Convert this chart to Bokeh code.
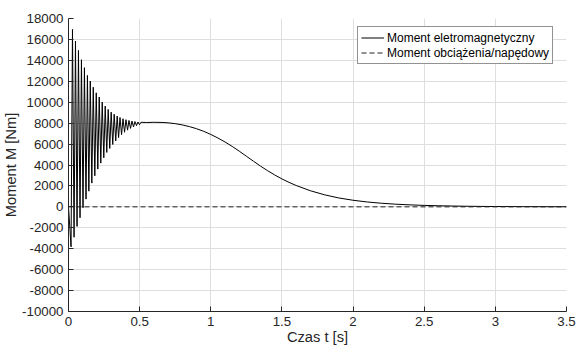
from bokeh.plotting import figure
from bokeh.models import Range1d, FixedTicker, CustomJSTickFormatter, Legend, LegendItem
from bokeh.embed import file_html
from bokeh.resources import INLINE

# ---------------- data ----------------
x_ticks = [0, 0.5, 1, 1.5, 2, 2.5, 3, 3.5]
y_ticks = [-10000, -8000, -6000, -4000, -2000, 0, 2000, 4000, 6000,
           8000, 10000, 12000, 14000, 16000, 18000]

# start of the electromagnetic torque
start_t = [0.0]
start_v = [0.0]

# local minima of the oscillating start-up torque
trough_t = [0.018, 0.039, 0.060, 0.081, 0.102, 0.123, 0.143, 0.164, 0.185, 0.206,
            0.227, 0.248, 0.269, 0.290, 0.311, 0.332, 0.352, 0.373, 0.394, 0.415,
            0.436, 0.457, 0.478, 0.499]
trough_v = [-3820, -2900, -1870, -1040, -90, 740, 1500, 2270, 2970, 3610,
            4180, 4690, 5200, 5580, 5960, 6300, 6620, 6900, 7130, 7330,
            7500, 7640, 7760, 7850]

# local maxima of the oscillating start-up torque
peak_t = [0.028, 0.049, 0.070, 0.091, 0.112, 0.133, 0.153, 0.174, 0.195, 0.216,
          0.237, 0.258, 0.279, 0.300, 0.321, 0.342, 0.362, 0.383, 0.404, 0.425,
          0.446, 0.467, 0.488, 0.509]
peak_v = [16960, 15840, 14950, 14060, 13300, 12560, 12020, 11440, 10900, 10490,
          10010, 9630, 9310, 9050, 8850, 8680, 8540, 8420, 8330, 8260,
          8200, 8150, 8110, 8080]

# smooth part of the electromagnetic torque
smooth_t = [0.55, 0.60, 0.65, 0.70, 0.75, 0.80, 0.85, 0.90, 0.95, 1.00,
            1.05, 1.10, 1.15, 1.20, 1.25, 1.30, 1.35, 1.40, 1.45, 1.50,
            1.55, 1.60, 1.70, 1.80, 1.90, 2.00, 2.10, 2.20, 2.30, 2.40,
            2.50, 2.60, 2.70, 2.80, 2.90, 3.00, 3.20, 3.50]
smooth_v = [8060, 8080, 8070, 8030, 7950, 7830, 7670, 7470, 7220, 6920,
            6580, 6200, 5780, 5320, 4840, 4360, 3890, 3450, 3040, 2670,
            2340, 2040, 1540, 1150, 850, 630, 465, 345, 255, 190,
            140, 105, 78, 58, 43, 32, 18, 8]

# load / driving torque
load_t = [0.0, 3.5]
load_v = [0.0, 0.0]

# ---------------- assemble the series ----------------
em_t = list(start_t)
em_v = list(start_v)
for tt, tv, pt, pv in zip(trough_t, trough_v, peak_t, peak_v):
    em_t += [tt, pt]
    em_v += [tv, pv]
em_t += smooth_t
em_v += smooth_v

FONT = "Liberation Sans"
DARK = "#262626"

p = figure(width=577, height=349, output_backend="svg", toolbar_location=None,
           x_range=Range1d(0, 3.5), y_range=Range1d(-10000, 18000),
           min_border_left=68, min_border_right=11, min_border_top=18,
           min_border_bottom=38)
p.outline_line_color = None
p.background_fill_color = "white"
p.border_fill_color = "white"

r1 = p.line(em_t, em_v, line_color="black", line_width=1)
r2 = p.line(load_t, load_v, line_color="#222222", line_width=1, line_dash="5 3")

p.xaxis.ticker = FixedTicker(ticks=x_ticks)
p.yaxis.ticker = FixedTicker(ticks=y_ticks)
fmt = "return tick.toString();"
p.xaxis.formatter = CustomJSTickFormatter(code=fmt)
p.yaxis.formatter = CustomJSTickFormatter(code=fmt)

for ax in (p.xaxis[0], p.yaxis[0]):
    ax.axis_line_color = DARK
    ax.axis_line_width = 1
    ax.major_tick_line_color = DARK
    ax.major_tick_in = 5
    ax.major_tick_out = 0
    ax.minor_tick_in = 0
    ax.minor_tick_out = 0
    ax.major_label_text_font = FONT
    ax.major_label_text_font_size = "13.3px"
    ax.major_label_text_color = DARK
    ax.axis_label_text_font = FONT
    ax.axis_label_text_font_size = "14.7px"
    ax.axis_label_text_font_style = "normal"
    ax.axis_label_text_color = DARK
    ax.axis_label_standoff = 0

p.xaxis.axis_label = "Czas t [s]"
p.yaxis.axis_label = "Moment M [Nm]"
p.xaxis.major_label_standoff = 5
p.yaxis.major_label_standoff = 5

p.xgrid.grid_line_color = "#dedede"
p.ygrid.grid_line_color = "#dedede"
p.xgrid.grid_line_width = 1
p.ygrid.grid_line_width = 1

legend = Legend(items=[LegendItem(label="Moment eletromagnetyczny", renderers=[r1]),
                       LegendItem(label="Moment obciążenia/napędowy", renderers=[r2])],
                location=(289, 247))
legend.margin = 0
legend.padding = 3
legend.spacing = 0
legend.glyph_width = 23
legend.glyph_height = 15
legend.label_height = 15
legend.label_standoff = 3
legend.label_text_font = FONT
legend.label_text_font_size = "12px"
legend.label_text_color = "black"
legend.border_line_color = DARK
legend.border_line_width = 1
legend.background_fill_color = "white"
legend.background_fill_alpha = 1
p.add_layout(legend)

open("out.html", "w").write(file_html(p, INLINE))
